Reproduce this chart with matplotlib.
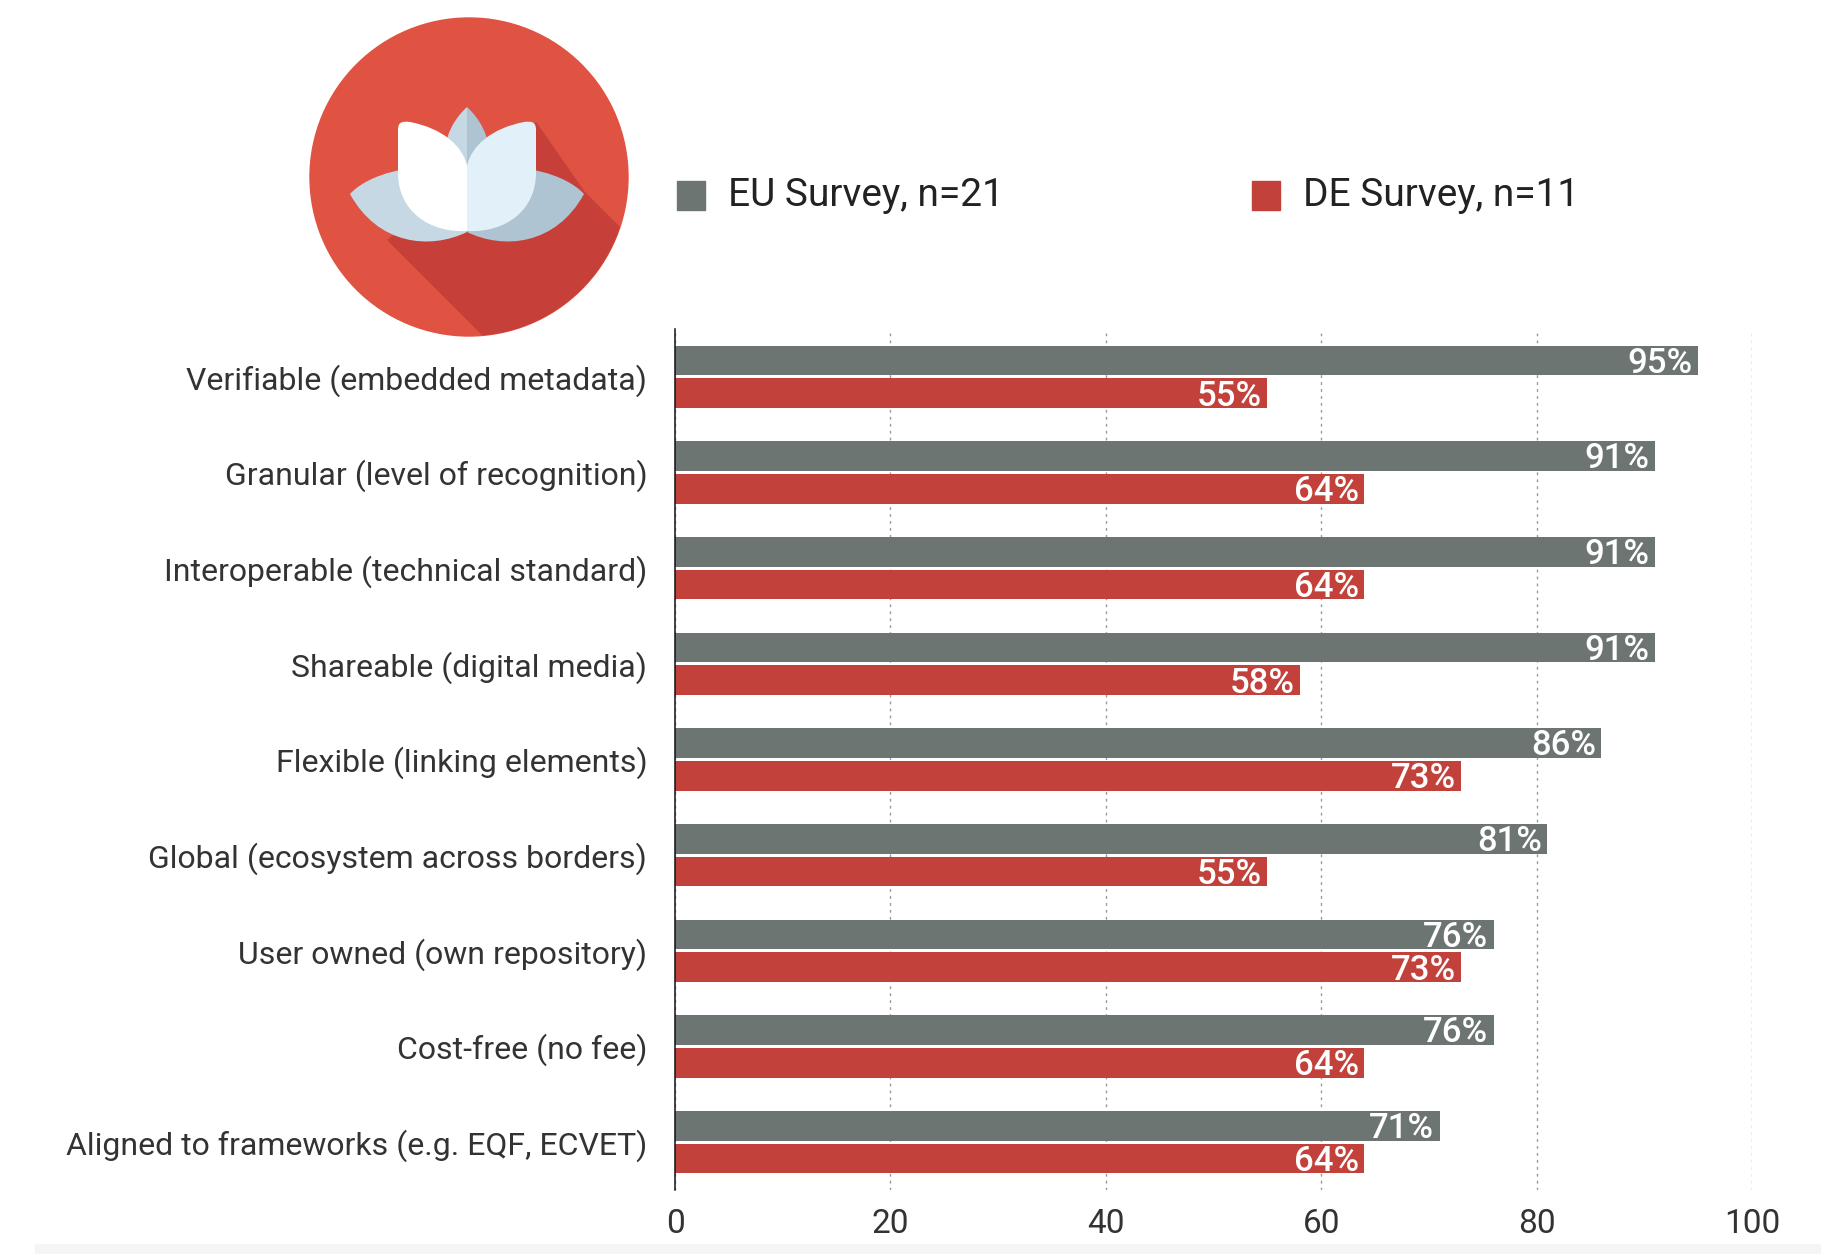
"""Survey bar chart: EU vs DE requirements for digital credentials"""

import numpy as np
import matplotlib.pyplot as plt
from matplotlib.patches import Circle, Polygon, PathPatch, Rectangle
from matplotlib.path import Path

# -----------------------------------------------------------------------------
# Data

categories = [
    "Verifiable (embedded metadata)",
    "Granular (level of recognition)",
    "Interoperable (technical standard)",
    "Shareable (digital media)",
    "Flexible (linking elements)",
    "Global (ecosystem across borders)",
    "User owned (own repository)",
    "Cost-free (no fee)",
    "Aligned to frameworks (e.g. EQF, ECVET)",
]
eu_values = [95, 91, 91, 91, 86, 81, 76, 76, 71]
de_values = [55, 64, 64, 58, 73, 55, 73, 64, 64]
series_labels = ["EU Survey, n=21", "DE Survey, n=11"]
x_ticks = [0, 20, 40, 60, 80, 100]

# -----------------------------------------------------------------------------
# Style

W, H = 1821, 1254
GREY = "#6d7572"
RED = "#c2413a"
LOGO_RED = "#e05242"
SHADOW_RED = "#c63f38"
TEXT = "#333333"
FONT = ["Roboto", "DejaVu Sans"]

plt.rcParams["font.family"] = FONT

fig = plt.figure(figsize=(W / 100, H / 100), dpi=100)


def px_axes(x0, y0, x1, y1):
    """Add axes given in pixel coordinates (origin top left)"""
    return fig.add_axes([x0 / W, 1 - y1 / H, (x1 - x0) / W, (y1 - y0) / H])


# -- Main bar axes
ax = px_axes(675, 329, 1752, 1190)
y = np.arange(len(categories))
off, bh = 0.172, 0.31

ax.barh(y - off, eu_values, height=bh, color=GREY, zorder=2)
ax.barh(y + off, de_values, height=bh, color=RED, zorder=2)

# value labels inside the bar ends
for yy, v in zip(y - off, eu_values):
    ax.text(v - 0.5, yy + 0.03, f"{v}%", ha="right", va="center",
            color="white", fontsize=25, fontweight="medium", zorder=3)
for yy, v in zip(y + off, de_values):
    ax.text(v - 0.5, yy + 0.03, f"{v}%", ha="right", va="center",
            color="white", fontsize=25, fontweight="medium", zorder=3)

ax.set_xlim(0, 100)
ax.set_ylim(len(categories) - 0.5, -0.5)
ax.set_xticks(x_ticks)
ax.set_xticklabels([str(t) for t in x_ticks])
ax.set_yticks(y)
ax.set_yticklabels(categories)
ax.tick_params(axis="both", length=0, colors=TEXT)
ax.tick_params(axis="x", labelsize=24, pad=13)
ax.tick_params(axis="y", labelsize=23, pad=20)

ax.xaxis.grid(True, linestyle=(0, (2, 3)), color="#9a9a9a", linewidth=1.0,
              zorder=0)
ax.set_axisbelow(True)
for side in ("top", "right", "bottom"):
    ax.spines[side].set_visible(False)
ax.spines["left"].set_color("#111111")
ax.spines["left"].set_linewidth(1.1)
ax.spines["left"].set_zorder(4)

# -- Overlay in pixel coordinates for logo and legend
over = px_axes(0, 0, W, H)
over.set_xlim(0, W)
over.set_ylim(H, 0)
over.axis("off")
over.set_zorder(-1)

# Logo: red disc, long shadow and lotus
disc = Circle((469, 177), 159, color=LOGO_RED, zorder=1)
over.add_patch(disc)
shadow = Polygon([(536, 123), (584, 192), (584 + 400, 192 + 400),
                  (388 + 400, 240 + 400), (388, 240)],
                 closed=True, color=SHADOW_RED, zorder=2)
over.add_patch(shadow)
shadow.set_clip_path(disc)


def bezier_patch(verts, color, z):
    codes = [Path.MOVETO] + [Path.CURVE4] * (len(verts) - 2) + [Path.CLOSEPOLY]
    p = PathPatch(Path(verts, codes), facecolor=color, edgecolor="none",
                  zorder=z)
    over.add_patch(p)


def mirror(verts, cx=467):
    return [(2 * cx - vx, vy) for vx, vy in verts]


# side petals
side = [(350, 194),
        (368, 174), (415, 162), (447, 170),
        (455, 195), (462, 215), (467, 232),
        (430, 250), (378, 245), (350, 194),
        (350, 194)]
bezier_patch(side, "#c6d8e3", 3)
bezier_patch(mirror(side), "#afc4d3", 3)

# back centre petal (two tones)
back = [(467, 107),
        (455, 118), (444, 135), (444, 160),
        (444, 195), (455, 220), (467, 230),
        (467, 180), (467, 140), (467, 107),
        (467, 107)]
bezier_patch(back, "#c6d8e3", 4)
bezier_patch(mirror(back), "#afc4d3", 4)

# front petals
front = [(398, 130),
         (398, 122), (402, 121), (410, 122),
         (442, 128), (463, 146), (467, 166),
         (467, 190), (467, 210), (467, 231),
         (428, 233), (398, 210), (398, 173),
         (398, 160), (398, 145), (398, 130),
         (398, 130)]
bezier_patch(front, "#ffffff", 5)
bezier_patch(mirror(front), "#e2f0f9", 5)

# Legend
for (x0, tx), col, lab in zip([(677, 728), (1252, 1303)], [GREY, RED],
                              series_labels):
    over.add_patch(Rectangle((x0, 181), 28, 29, color=col))
    over.text(tx, 196, lab, ha="left", va="center", fontsize=28,
              color="#222222")

# faint strip at the bottom of the screenshot
over.add_patch(Rectangle((35, 1244), W, 10, color="#f5f5f5", zorder=0))

fig.savefig("out.png", dpi=100)
